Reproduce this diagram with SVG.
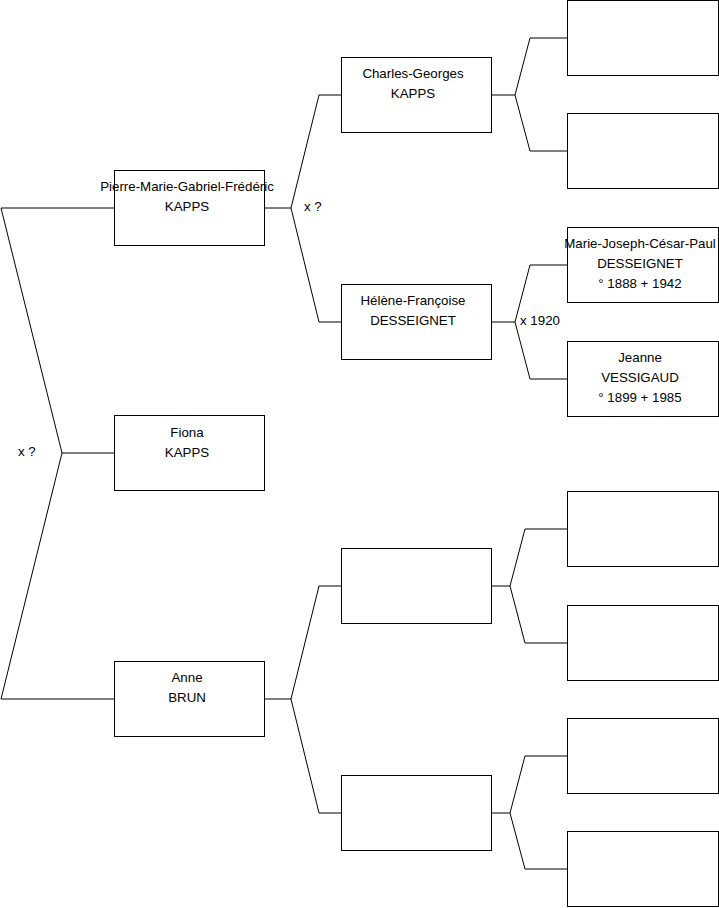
<svg xmlns="http://www.w3.org/2000/svg" width="719" height="908" viewBox="0 0 719 908">
<style>
.box{fill:#fff;stroke:#000;stroke-width:1}
.ln{fill:none;stroke:#000;stroke-width:1}
text{font-family:"Liberation Sans",Arial,sans-serif;font-size:13.3px;fill:#000}
.c{text-anchor:middle}
</style>
<rect width="719" height="908" fill="#fff"/>
<g id="connectors">
<polyline class="ln" points="114.5,208 1,208 62,453 1,699 114.5,699"/>
<line class="ln" x1="62" y1="453" x2="114.5" y2="453"/>
<polyline class="ln" points="264.5,208 291,208"/>
<polyline class="ln" points="341.5,95 319,95 291,208 319,322 341.5,322"/>
<polyline class="ln" points="264.5,699 291,699"/>
<polyline class="ln" points="341.5,586 319,586 291,699 319,813 341.5,813"/>
<polyline class="ln" points="491.5,95 515,95"/>
<polyline class="ln" points="567.5,38 530,38 515,95 530,151 567.5,151"/>
<polyline class="ln" points="491.5,322 515,322"/>
<polyline class="ln" points="567.5,265 530,265 515,322 530,379 567.5,379"/>
<polyline class="ln" points="491.5,586 510,586"/>
<polyline class="ln" points="567.5,529 525,529 510,586 525,643 567.5,643"/>
<polyline class="ln" points="491.5,813 510,813"/>
<polyline class="ln" points="567.5,756 525,756 510,813 525,869 567.5,869"/>
<text x="18" y="456">x ?</text>
<text x="304" y="211">x ?</text>
<text x="520" y="325">x 1920</text>
</g>
<g id="pierre"><rect class="box" x="114.5" y="170.5" width="150" height="75"/><text class="c" x="187" y="191">Pierre-Marie-Gabriel-Frédéric</text><text class="c" x="187" y="211">KAPPS</text></g>
<g id="fiona"><rect class="box" x="114.5" y="415.5" width="150" height="75"/><text class="c" x="187" y="437">Fiona</text><text class="c" x="187" y="457">KAPPS</text></g>
<g id="anne"><rect class="box" x="114.5" y="661.5" width="150" height="75"/><text class="c" x="187" y="682">Anne</text><text class="c" x="187" y="702">BRUN</text></g>
<g id="charles"><rect class="box" x="341.5" y="57.5" width="150" height="75"/><text class="c" x="413" y="78">Charles-Georges</text><text class="c" x="413" y="98">KAPPS</text></g>
<g id="helene"><rect class="box" x="341.5" y="284.5" width="150" height="75"/><text class="c" x="413" y="305">Hélène-Françoise</text><text class="c" x="413" y="325">DESSEIGNET</text></g>
<g id="unknown1"><rect class="box" x="341.5" y="548.5" width="150" height="75"/></g>
<g id="unknown2"><rect class="box" x="341.5" y="775.5" width="150" height="75"/></g>
<g id="g3a"><rect class="box" x="567.5" y="0.5" width="151" height="75"/></g>
<g id="g3b"><rect class="box" x="567.5" y="113.5" width="151" height="75"/></g>
<g id="mariejoseph"><rect class="box" x="567.5" y="227.5" width="151" height="75"/><text class="c" x="640" y="248">Marie-Joseph-César-Paul</text><text class="c" x="640" y="268">DESSEIGNET</text><text class="c" x="640" y="288">° 1888 + 1942</text></g>
<g id="jeanne"><rect class="box" x="567.5" y="341.5" width="151" height="75"/><text class="c" x="640" y="362">Jeanne</text><text class="c" x="640" y="382">VESSIGAUD</text><text class="c" x="640" y="402">° 1899 + 1985</text></g>
<g id="g3e"><rect class="box" x="567.5" y="491.5" width="151" height="75"/></g>
<g id="g3f"><rect class="box" x="567.5" y="605.5" width="151" height="75"/></g>
<g id="g3g"><rect class="box" x="567.5" y="718.5" width="151" height="75"/></g>
<g id="g3h"><rect class="box" x="567.5" y="831.5" width="151" height="75"/></g>
</svg>
